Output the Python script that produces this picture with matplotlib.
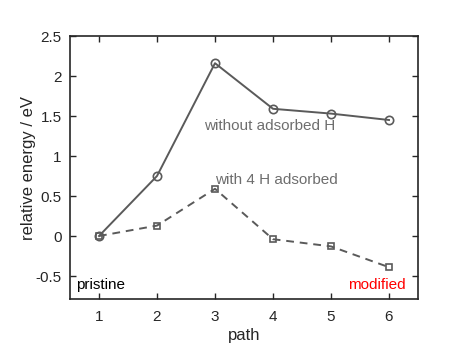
import numpy as np
import matplotlib
matplotlib.use("Agg")
from matplotlib import pyplot as plt

plt.rcParams['font.family'] = ['Liberation Sans', 'DejaVu Sans']

path = [1, 2, 3, 4, 5, 6]
without_h = [0, 0.75, 2.16, 1.59, 1.53, 1.45]
with_4h = [0, 0.13, 0.59, -0.04, -0.13, -0.39]
yticks = [-0.5, 0, 0.5, 1, 1.5, 2, 2.5]
ytick_labels = ['-0.5', '0', '0.5', '1', '1.5', '2', '2.5']

line_col = '#5a5a5a'
axis_col = '#262626'

fig = plt.figure(figsize=(4.71, 3.6), dpi=100)
ax = fig.add_axes([70/471, 1 - 299/360, 348/471, 263/360])

ax.plot(path, without_h, '-', color=line_col, lw=1.4, marker='o', ms=6,
        mfc='none', mew=1.2)
ax.plot(path, with_4h, '--', color=line_col, lw=1.4, marker='s', ms=5,
        mfc='none', mew=1.2, dashes=(4, 3))

ax.set_xlim(0.5, 6.5)
ax.set_ylim(-0.7875, 2.5)
ax.set_xticks(path)
ax.set_yticks(yticks)
ax.set_yticklabels(ytick_labels)

ax.tick_params(direction='in', top=True, right=True, length=4, width=1,
               colors=axis_col, labelsize=11)
ax.tick_params(axis='x', pad=8)
ax.tick_params(axis='y', pad=6)
for s in ax.spines.values():
    s.set_color(axis_col)
    s.set_linewidth(1.2)

ax.set_xlabel('path', fontsize=12, color=axis_col, labelpad=3)
ax.set_ylabel('relative energy / eV', fontsize=12, color=axis_col, labelpad=0)

ax.text(2.81, 1.375, 'without adsorbed H', color='#6e6e6e', fontsize=11,
        ha='left', va='center')
ax.text(3.0, 0.70, 'with 4 H adsorbed', color='#6e6e6e', fontsize=11,
        ha='left', va='center')
ax.text(0.6, -0.61, 'pristine', color='black', fontsize=11,
        ha='left', va='center')
ax.text(6.28, -0.61, 'modified', color='red', fontsize=11,
        ha='right', va='center')

fig.savefig('out.png', dpi=100)
